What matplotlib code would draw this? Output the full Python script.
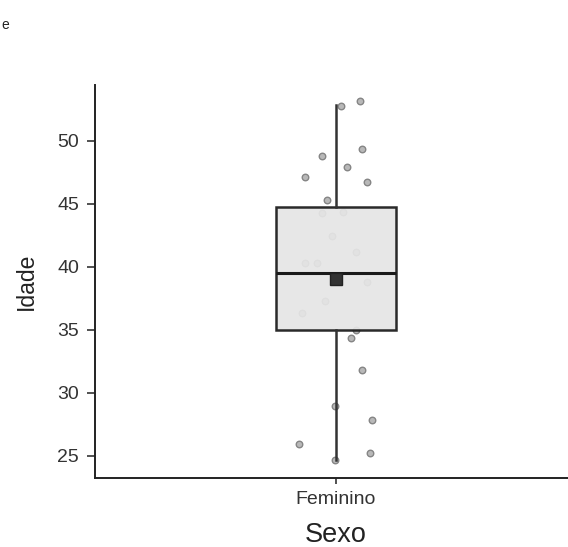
import matplotlib
matplotlib.use("Agg")
import matplotlib.pyplot as plt
import numpy as np

plt.rcParams["font.family"] = ["Liberation Sans", "DejaVu Sans"]

# data
categoria = ["Feminino"]
idade = [52.8, 53.15, 49.34, 48.83, 47.96, 47.12, 46.72, 45.32, 44.29, 44.37,
         42.42, 41.21, 40.34, 40.29, 38.83, 37.3, 36.35, 35.0, 34.37, 31.85,
         28.97, 27.88, 25.93, 25.26, 24.71]
jitter = [0.012, 0.059, 0.064, -0.036, 0.027, -0.077, 0.077, -0.022, -0.036, 0.017,
          -0.009, 0.050, -0.048, -0.077, 0.076, -0.027, -0.085, 0.050, 0.037, 0.065,
          -0.002, 0.090, -0.093, 0.085, -0.002]
q1, mediana, q3 = 35.0, 39.5, 44.75
whisk_lo, whisk_hi = 24.7, 52.85
media = 39.05
yticks = [25, 30, 35, 40, 45, 50]

fig = plt.figure(figsize=(5.68, 5.47), dpi=100)
ax = fig.add_axes([0.1673, 0.1261, 0.8327, 0.7185])

ax.scatter(np.array(jitter), idade, s=22, color="#b8b8b8", edgecolor="#858585",
           linewidth=1.0, zorder=1)

stats = [dict(med=mediana, q1=q1, q3=q3, whislo=whisk_lo, whishi=whisk_hi,
              mean=media, label=categoria[0])]
ax.bxp(stats, positions=[0], widths=0.3, showmeans=True, showcaps=False,
       showfliers=False, patch_artist=True,
       boxprops=dict(facecolor="#e6e6e6", edgecolor="#1a1a1a", linewidth=1.8, alpha=0.93),
       medianprops=dict(color="#1a1a1a", linewidth=2.2),
       whiskerprops=dict(color="#333333", linewidth=1.8),
       meanprops=dict(marker="s", markerfacecolor="#333333", markeredgecolor="#222222",
                      markersize=8.5),
       zorder=2)

ax.set_xlim(-0.6, 0.5776)
ax.set_ylim(23.25, 54.44)
ax.set_yticks(yticks)
ax.set_xticks([0])
ax.set_xticklabels(categoria)

for s in ["top", "right"]:
    ax.spines[s].set_visible(False)
for s in ["left", "bottom"]:
    ax.spines[s].set_linewidth(1.4)
    ax.spines[s].set_color("#222222")

ax.tick_params(axis="both", labelsize=14, colors="#333333", width=1.2,
               labelcolor="#333333")
ax.tick_params(axis="y", length=5.5, pad=6)
ax.tick_params(axis="x", length=4, pad=5)
ax.set_xlabel("Sexo", fontsize=19.5, color="#222222")
ax.set_ylabel("Idade", fontsize=16.5, color="#222222")
ax.xaxis.set_label_coords(0.5095, -0.112)
ax.yaxis.set_label_coords(-0.12, 0.5)

fig.text(0.002, 0.955, "e", fontsize=10, ha="left", va="center", color="#222222")

fig.savefig("out.png", dpi=100)
